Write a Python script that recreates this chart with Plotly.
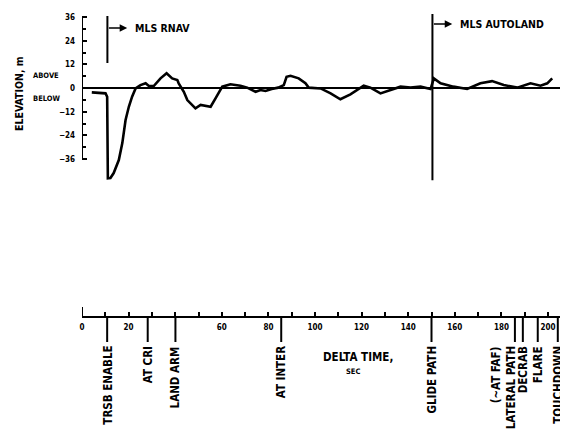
import plotly.graph_objects as go

# elevation trace (delta time in sec, elevation in m)
t = [4.2, 10.1, 10.8, 11.1, 12.2, 13.6, 15.8, 17.3, 18.7, 20.1, 21.5, 23.0, 25.1, 27.3,
     28.7, 30.8, 33.7, 36.3, 38.7, 40.9, 41.5, 42.3, 43.7, 45.2, 46.6, 48.7, 50.9, 55.2,
     57.3, 60.2, 63.7, 68.0, 70.9, 74.5, 76.6, 78.8, 81.4, 84.2, 86.6, 87.8, 89.5, 93.0,
     95.9, 97.3, 102.4, 106.7, 110.9, 115.2, 120.9, 123.8, 128.1, 132.4, 136.7, 141.0,
     145.3, 149.6, 151.0, 153.9, 159.4, 165.3, 171.0, 176.0, 181.0, 186.8, 192.5, 196.8,
     199.7, 201.8]
elev = [-2.2, -2.7, -4.4, -45.8, -45.6, -43.1, -36.5, -27.9, -16.2, -9.5, -4.4, -0.2, 1.5,
        2.4, 1.0, 1.0, 4.9, 7.5, 4.9, 4.1, 2.4, 0.7, -1.9, -6.1, -7.8, -10.3, -8.6, -9.5,
        -5.2, 0.7, 1.9, 1.2, 0.2, -1.9, -1.0, -1.5, -0.5, 0.2, 1.5, 5.7, 6.2, 4.9, 2.4, 0.2,
        -0.2, -2.7, -5.7, -3.2, 1.2, 0.2, -2.7, -1.0, 0.7, 0.2, 0.7, -0.5, 4.9, 2.4, 0.7,
        -0.5, 2.4, 3.5, 1.5, 0.2, 2.4, 1.2, 2.4, 4.9]

y_ticks = [36, 24, 12, 0, -12, -24, -36]
y_minor = [30, 18, 6, -6, -18, -30]
x_ticks = [0, 20, 60, 80, 100, 120, 140, 160, 180, 200]
x_minor = list(range(10, 210, 10))

events = ["TRSB ENABLE", "AT CRI", "LAND ARM", "AT INTER", "GLIDE PATH",
          "LATERAL PATH", "DECRAB", "FLARE", "TOUCHDOWN"]
event_t = [10.8, 28.2, 40.1, 85.5, 150.0, 185.8, 189.2, 195.6, 204.2]
label_shift = [0, 0, 0, 0, 0, -1.8, 0, 0, 0]

modes = ["MLS RNAV", "MLS AUTOLAND"]
mode_t = [10.9, 150.4]

# page body adds an 8px offset, so the figure covers 8..568 x 8..429
OFF = 8
W, H = 568 - OFF, 429 - OFF
ML = 82 - OFF
PW = W - ML
FONT = "DejaVu Sans Condensed, Liberation Sans, sans-serif"


def px_x(px):
    return (px - OFF - ML) / PW


def px_y(py):
    return 1 - (py - OFF) / H


def bold(size):
    return dict(size=size, family=FONT, weight="bold", color="black")


fig = go.Figure()
fig.add_trace(go.Scatter(x=t, y=elev, mode="lines", line=dict(color="black", width=2.6),
                         showlegend=False, xaxis="x", yaxis="y"))

xr = [0, PW / 2.33]
fig.update_layout(
    width=W, height=H,
    margin=dict(l=ML, r=0, t=0, b=0),
    plot_bgcolor="white", paper_bgcolor="white",
    font=bold(8),
    xaxis=dict(range=xr, visible=False, domain=[0, 1], anchor="y"),
    yaxis=dict(range=[-48, 38.5], domain=[px_y(182.7), px_y(12.1)], showgrid=False,
               zeroline=True, zerolinecolor="black", zerolinewidth=2,
               showline=False, tickvals=y_ticks, ticks="inside", ticklen=5,
               tickwidth=1.5, tickcolor="black", ticklabelstandoff=6,
               minor=dict(tickvals=y_minor, ticks="inside", ticklen=4, tickwidth=1.5,
                          tickcolor="black"),
               tickfont=bold(8)),
    xaxis2=dict(range=xr, domain=[0, 1], anchor="y2", showgrid=False, zeroline=False,
                showline=True, linecolor="black", linewidth=2,
                tickvals=x_ticks, ticks="inside", ticklen=4, tickwidth=1.5,
                tickcolor="black", ticklabelstandoff=2,
                minor=dict(tickvals=x_minor, ticks="inside", ticklen=4, tickwidth=1.5,
                           tickcolor="black"),
                tickfont=bold(8)),
    yaxis2=dict(domain=[px_y(316), px_y(296)], visible=False, range=[0, 1]),
)

# left elevation axis line only from -36 to 36
fig.add_shape(type="line", xref="x", yref="y", x0=0, x1=0, y0=-36, y1=36,
              line=dict(color="black", width=2))
# taller start tick on time axis
fig.add_shape(type="line", xref="x2", yref="paper", x0=0, x1=0, y0=px_y(316), y1=px_y(307),
              line=dict(color="black", width=2))

# mode change markers
mode_y = [(36.5, 12.7, 30.4), (37.5, -46.7, 32.5)]
for name, mt, (top, bot, ay) in zip(modes, mode_t, mode_y):
    fig.add_shape(type="line", xref="x", yref="y", x0=mt, x1=mt, y0=bot, y1=top,
                  line=dict(color="black", width=2))
    fig.add_annotation(x=mt + 8.5, y=ay, ax=mt, ay=ay, xref="x", yref="y",
                       axref="x", ayref="y", showarrow=True, arrowhead=2,
                       arrowsize=1, arrowwidth=1.5, arrowcolor="black", text="")
    fig.add_annotation(x=mt + 11, y=ay, xref="x", yref="y", text=name, showarrow=False,
                       xanchor="left", font=bold(10.5))

# event markers below time axis
for name, et, sh in zip(events, event_t, label_shift):
    fig.add_shape(type="line", xref="x2", yref="paper", x0=et, x1=et,
                  y0=px_y(316), y1=px_y(342), line=dict(color="black", width=2))
    fig.add_annotation(x=et + sh, y=px_y(344), xref="x2", yref="paper", text=name,
                       textangle=-90, showarrow=False, xanchor="center", yanchor="top",
                       font=bold(11.5))
fig.add_annotation(x=event_t[5] - 8.2, y=px_y(344), xref="x2", yref="paper",
                   text="(~AT FAF)", textangle=-90, showarrow=False, xanchor="center",
                   yanchor="top", font=bold(11.5))

# axis titles
fig.add_annotation(x=px_x(19), y=px_y(94), xref="paper", yref="paper", text="ELEVATION, m",
                   textangle=-90, showarrow=False, xanchor="center", yanchor="middle",
                   font=bold(10.5))
fig.add_annotation(x=px_x(46), y=px_y(76), xref="paper", yref="paper", text="ABOVE",
                   showarrow=False, xanchor="center", yanchor="middle", font=bold(7.5))
fig.add_annotation(x=px_x(47), y=px_y(98), xref="paper", yref="paper", text="BELOW",
                   showarrow=False, xanchor="center", yanchor="middle", font=bold(7.5))
fig.add_annotation(x=px_x(358), y=px_y(357), xref="paper", yref="paper", text="DELTA TIME,",
                   showarrow=False, xanchor="center", yanchor="middle", font=bold(11.5))
fig.add_annotation(x=px_x(353), y=px_y(371), xref="paper", yref="paper", text="SEC",
                   showarrow=False, xanchor="center", yanchor="middle", font=bold(7.5))

fig.write_html("out.html")
